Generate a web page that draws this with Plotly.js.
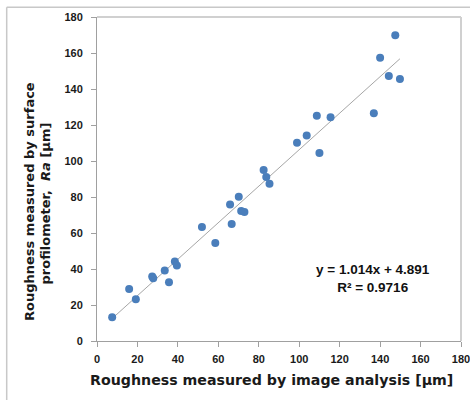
<!DOCTYPE html>
<html>
<head>
<meta charset="utf-8">
<script src="https://cdn.plot.ly/plotly-3.0.1.min.js"></script>
<style>html,body{margin:0;padding:0;background:#fff;}#chart{width:470px;height:400px;}</style>
</head>
<body>
<div id="chart"></div>
<script>
// Roughness by image analysis (x) vs surface profilometer Ra (y), µm
const imageAnalysis = [147.5, 140.0, 144.3, 149.8, 108.7, 115.5, 136.9, 98.9, 103.7, 110.0,
  82.4, 83.7, 85.3, 70.1, 65.8, 71.3, 72.9, 51.9, 66.6, 58.5,
  38.5, 39.5, 33.5, 27.3, 27.8, 35.6, 15.9, 19.2, 7.5];
const profilometer = [169.8, 157.4, 147.2, 145.6, 125.2, 124.3, 126.5, 110.2, 114.1, 104.4,
  95.0, 91.1, 87.4, 80.2, 75.9, 72.2, 71.7, 63.3, 65.0, 54.4,
  44.1, 42.0, 39.1, 35.9, 34.8, 32.6, 28.9, 23.2, 13.2];
// Linear fit shown on the chart
const fitSlope = 1.014;
const fitIntercept = 4.891;
const fitR2 = 0.9716;
const tickVals = [0, 20, 40, 60, 80, 100, 120, 140, 160, 180];
const xTitle = 'Roughness measured by image analysis [μm]';
const yTitleLines = ['Roughness measured by surface', 'profilometer,\u00a0 <i>Ra</i> [μm]'];

const xMin = Math.min(...imageAnalysis), xMax = Math.max(...imageAnalysis);
const trendX = [xMin, xMax];
const trendY = trendX.map(v => fitSlope * v + fitIntercept);

const L = 97, R = 461, T = 17, B = 341, W = 470, H = 400;
const px = v => (v - L) / (R - L);
const py = v => (B - v) / (B - T);

const traces = [
  {x: trendX, y: trendY, mode: 'lines', line: {color: '#a6a6a6', width: 1}, hoverinfo: 'skip', showlegend: false},
  {x: imageAnalysis, y: profilometer, mode: 'markers', marker: {color: '#4a7ebb', size: 8}, showlegend: false}
];

const axisCommon = {
  range: [0, 180], tickvals: tickVals, ticktext: tickVals.map(String),
  showgrid: false, zeroline: false, showline: true, linecolor: '#a0a0a0', linewidth: 1,
  ticks: 'outside', ticklen: 5, tickcolor: '#a0a0a0', tickwidth: 1,
  ticklabeloverflow: 'allow',
  tickfont: {family: 'Liberation Sans, Arial, sans-serif', size: 11, color: '#1a1a1a', weight: 'bold'},
  fixedrange: true
};

const titleFont = {family: 'DejaVu Sans, sans-serif', size: 13, color: '#1a1a1a', weight: 'bold'};

const layout = {
  width: W, height: H,
  margin: {l: L, r: W - R, t: T, b: H - B},
  paper_bgcolor: '#ffffff', plot_bgcolor: '#ffffff',
  xaxis: Object.assign({}, axisCommon, {ticklabelstandoff: 3}),
  yaxis: Object.assign({}, axisCommon, {ticklabelstandoff: 6}),
  shapes: [
    {type: 'line', xref: 'paper', yref: 'paper', x0: 0, x1: 1, y0: 1, y1: 1, line: {color: '#d0d0d0', width: 2}},
    {type: 'line', xref: 'paper', yref: 'paper', x0: 1, x1: 1, y0: 0, y1: 1, line: {color: '#d0d0d0', width: 2}},
    {type: 'line', xref: 'paper', yref: 'paper', x0: px(6.7), x1: px(472), y0: py(7.3), y1: py(7.3), line: {color: '#c8c8c8', width: 1.5}},
    {type: 'line', xref: 'paper', yref: 'paper', x0: px(6.7), x1: px(6.7), y0: py(7.3), y1: py(402), line: {color: '#c8c8c8', width: 1.5}}
  ],
  annotations: [
    {xref: 'paper', yref: 'paper', x: px(271), y: py(380), xanchor: 'center', yanchor: 'middle', showarrow: false,
     text: xTitle, font: {family: 'DejaVu Sans, sans-serif', size: 14.2, color: '#1a1a1a', weight: 'bold'}},
    {xref: 'paper', yref: 'paper', x: px(29), y: py(202), xanchor: 'center', yanchor: 'middle', showarrow: false, textangle: -90,
     text: yTitleLines[0], font: titleFont},
    {xref: 'paper', yref: 'paper', x: px(44.5), y: py(204), xanchor: 'center', yanchor: 'middle', showarrow: false, textangle: -90,
     text: yTitleLines[1], font: titleFont},
    {xref: 'paper', yref: 'paper', x: px(373), y: py(278), xanchor: 'center', yanchor: 'middle', showarrow: false,
     text: 'y = ' + fitSlope.toFixed(3) + 'x + ' + fitIntercept.toFixed(3) + '<br>R² = ' + fitR2.toFixed(4),
     font: {family: 'Liberation Sans, Arial, sans-serif', size: 13.5, color: '#111', weight: 'bold'}}
  ]
};

Plotly.newPlot('chart', traces, layout, {displayModeBar: false, staticPlot: true});
</script>
</body>
</html>
